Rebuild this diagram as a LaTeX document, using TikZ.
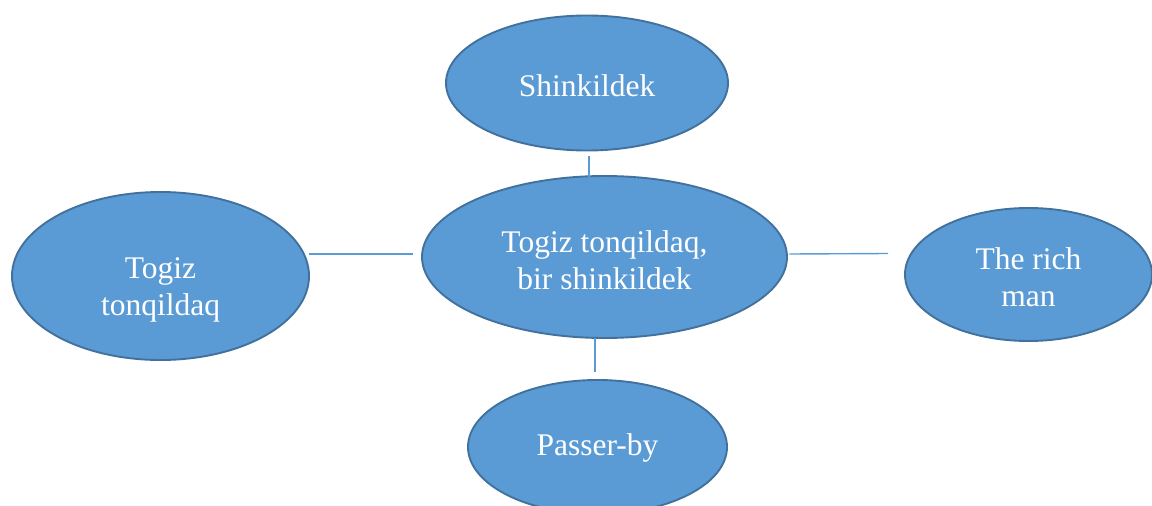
\documentclass[tikz,border=0pt]{standalone}
\usepackage{fontspec}
\setmainfont{Liberation Serif}
\usetikzlibrary{shapes.geometric}
\definecolor{fillblue}{HTML}{5B9BD5}
\definecolor{edgeblue}{HTML}{41719C}
\begin{document}
\begin{tikzpicture}[x=1pt,y=1pt,
  bubble/.style={ellipse, draw=edgeblue, line width=1.9pt, fill=fillblue, inner sep=0pt},
  lbl/.style={text=white, font=\fontsize{31.5}{37}\selectfont, align=center, inner sep=0pt},
  link/.style={draw=fillblue, line width=1.4pt}]
\useasboundingbox (0,0) rectangle (1152,-506);
\begin{scope}
\clip (0,0) rectangle (1152,-506);
\node[bubble, minimum width=282pt, minimum height=135pt] (top) at (587,-83) {};
\node[bubble, minimum width=365pt, minimum height=162pt] (mid) at (604.5,-257) {};
\node[bubble, minimum width=297pt, minimum height=168pt] (left) at (160.5,-276) {};
\node[bubble, minimum width=247pt, minimum height=133pt] (right) at (1028.5,-274.5) {};
\node[bubble, minimum width=259pt, minimum height=134pt] (bottom) at (597.5,-447) {};
\end{scope}
\node[lbl] (topt) at ([yshift=-3pt]top.center) {Shinkildek};
\node[lbl] (midt) at ([yshift=-3pt]mid.center) {Togiz tonqildaq,\\bir shinkildek};
\node[lbl] (leftt) at ([yshift=-14pt]left.center) {Togiz\\tonqildaq};
\node[lbl] (rightt) at ([yshift=-3pt]right.center) {The rich\\man};
\node[lbl] (bottomt) at ([yshift=-1pt]bottom.center) {Passer-by};
\draw[link] ([xshift=2pt,yshift=-4.5pt]top.south) -- ([xshift=-15.5pt,yshift=-2pt]mid.north);
\draw[link] ([xshift=-1pt,yshift=22pt]left.east) -- ([xshift=-8pt,yshift=3pt]mid.west);
\draw[link] ([xshift=1.5pt,yshift=3pt]mid.east) -- ([xshift=-16pt,yshift=21pt]right.west);
\draw[link] ([xshift=-9.5pt,yshift=1pt]mid.south) -- ([xshift=-2.5pt,yshift=7pt]bottom.north);
\end{tikzpicture}
\end{document}
